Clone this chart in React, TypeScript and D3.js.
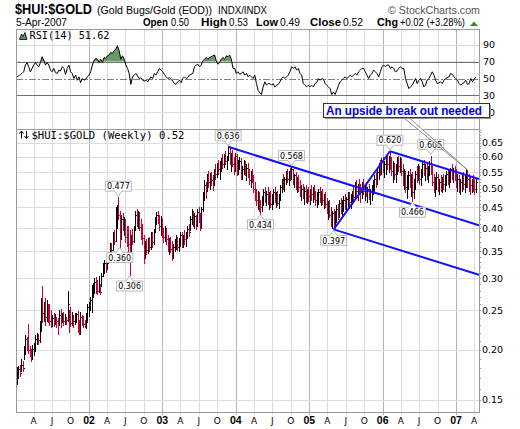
import React from "react";
import * as d3 from "d3";

// Weekly bars, Jan 2001 .. Apr 2007 (high, low, close)
const highs = [
  0.181,0.182,0.183,0.190,0.187,0.204,0.217,0.215,0.231,0.204,
  0.201,0.205,0.208,0.217,0.220,0.219,0.236,0.268,0.287,0.263,
  0.268,0.266,0.258,0.260,0.250,0.243,0.246,0.245,0.241,0.239,
  0.250,0.252,0.247,0.248,0.245,0.241,0.279,0.251,0.255,0.248,
  0.244,0.246,0.247,0.249,0.237,0.248,0.244,0.242,0.237,0.246,
  0.260,0.262,0.270,0.289,0.292,0.300,0.302,0.297,0.305,0.290,
  0.310,0.327,0.333,0.330,0.338,0.345,0.367,0.368,0.390,0.395,
  0.452,0.455,0.477,0.440,0.430,0.435,0.425,0.422,0.405,0.405,
  0.395,0.385,0.398,0.405,0.440,0.445,0.440,0.438,0.420,0.410,
  0.385,0.372,0.375,0.378,0.380,0.390,0.392,0.398,0.425,0.438,
  0.442,0.432,0.428,0.420,0.400,0.405,0.400,0.385,0.378,0.380,
  0.372,0.365,0.375,0.385,0.380,0.378,0.390,0.392,0.385,0.395,
  0.392,0.405,0.410,0.428,0.445,0.440,0.435,0.432,0.445,0.450,
  0.435,0.450,0.490,0.525,0.520,0.545,0.555,0.548,0.552,0.540,
  0.560,0.575,0.580,0.590,0.585,0.598,0.610,0.612,0.620,0.605,
  0.636,0.630,0.615,0.625,0.600,0.615,0.610,0.590,0.600,0.595,
  0.570,0.590,0.585,0.575,0.580,0.560,0.555,0.560,0.540,0.520,
  0.500,0.495,0.490,0.470,0.480,0.500,0.505,0.495,0.505,0.490,
  0.495,0.485,0.500,0.505,0.490,0.495,0.485,0.510,0.530,0.545,
  0.535,0.555,0.560,0.555,0.565,0.568,0.560,0.545,0.550,0.535,
  0.540,0.525,0.510,0.515,0.505,0.510,0.500,0.505,0.500,0.510,
  0.505,0.510,0.495,0.490,0.500,0.505,0.495,0.500,0.485,0.490,
  0.475,0.468,0.470,0.450,0.440,0.445,0.440,0.455,0.460,0.470,
  0.475,0.470,0.480,0.485,0.478,0.490,0.492,0.485,0.495,0.505,
  0.520,0.525,0.515,0.530,0.515,0.520,0.530,0.510,0.520,0.505,
  0.515,0.500,0.512,0.525,0.540,0.550,0.560,0.580,0.590,0.595,
  0.600,0.585,0.600,0.610,0.605,0.620,0.600,0.585,0.580,0.575,
  0.600,0.605,0.600,0.595,0.575,0.560,0.555,0.540,0.555,0.560,
  0.545,0.550,0.530,0.555,0.570,0.575,0.570,0.560,0.585,0.590,
  0.575,0.580,0.570,0.585,0.605,0.570,0.545,0.535,0.550,0.545,
  0.530,0.540,0.535,0.545,0.540,0.555,0.560,0.555,0.565,0.575,
  0.565,0.570,0.560,0.545,0.540,0.530,0.545,0.550,0.540,0.560,
  0.558,0.545,0.535,0.530,0.540,0.530,0.530,
];
const lows = [
  0.164,0.170,0.172,0.177,0.177,0.190,0.195,0.200,0.196,0.193,
  0.187,0.191,0.194,0.198,0.207,0.206,0.209,0.222,0.234,0.236,
  0.230,0.236,0.234,0.230,0.227,0.229,0.229,0.231,0.228,0.219,
  0.230,0.228,0.234,0.230,0.232,0.232,0.235,0.221,0.229,0.230,
  0.227,0.232,0.234,0.221,0.219,0.219,0.230,0.228,0.227,0.226,
  0.234,0.242,0.250,0.248,0.270,0.276,0.276,0.275,0.277,0.274,
  0.287,0.304,0.310,0.312,0.316,0.328,0.340,0.345,0.352,0.365,
  0.372,0.400,0.420,0.360,0.375,0.395,0.385,0.370,0.362,0.350,
  0.306,0.330,0.365,0.370,0.395,0.405,0.400,0.395,0.375,0.365,
  0.327,0.338,0.345,0.346,0.350,0.355,0.360,0.365,0.390,0.410,
  0.412,0.395,0.385,0.380,0.370,0.372,0.365,0.350,0.345,0.348,
  0.333,0.338,0.350,0.355,0.352,0.350,0.362,0.360,0.358,0.365,
  0.362,0.378,0.382,0.395,0.410,0.405,0.400,0.398,0.405,0.415,
  0.396,0.400,0.440,0.470,0.475,0.495,0.505,0.500,0.510,0.498,
  0.510,0.530,0.535,0.545,0.530,0.555,0.565,0.568,0.575,0.560,
  0.590,0.575,0.555,0.570,0.545,0.555,0.540,0.545,0.560,0.530,
  0.530,0.545,0.540,0.525,0.535,0.515,0.505,0.520,0.490,0.470,
  0.455,0.445,0.440,0.434,0.440,0.455,0.465,0.455,0.460,0.445,
  0.450,0.445,0.460,0.465,0.450,0.455,0.448,0.470,0.490,0.500,
  0.495,0.515,0.520,0.510,0.525,0.530,0.515,0.505,0.500,0.490,
  0.495,0.480,0.470,0.475,0.460,0.465,0.462,0.468,0.460,0.470,
  0.465,0.472,0.455,0.450,0.460,0.465,0.455,0.458,0.448,0.450,
  0.435,0.420,0.425,0.405,0.400,0.397,0.402,0.415,0.420,0.425,
  0.435,0.430,0.440,0.445,0.440,0.450,0.452,0.448,0.460,0.470,
  0.475,0.480,0.470,0.490,0.465,0.475,0.485,0.470,0.480,0.465,
  0.472,0.460,0.470,0.485,0.495,0.505,0.515,0.530,0.540,0.545,
  0.550,0.535,0.545,0.560,0.550,0.560,0.540,0.520,0.530,0.520,
  0.545,0.555,0.550,0.540,0.510,0.500,0.490,0.475,0.500,0.505,
  0.480,0.466,0.475,0.500,0.520,0.525,0.515,0.510,0.535,0.540,
  0.525,0.530,0.520,0.540,0.545,0.510,0.490,0.480,0.500,0.495,
  0.485,0.495,0.490,0.500,0.495,0.510,0.515,0.505,0.520,0.530,
  0.520,0.525,0.505,0.495,0.490,0.485,0.495,0.500,0.490,0.505,
  0.505,0.495,0.485,0.490,0.495,0.485,0.490,
];
const closes = [
  0.177,0.179,0.175,0.183,0.180,0.200,0.212,0.205,0.199,0.196,
  0.190,0.201,0.204,0.213,0.216,0.211,0.232,0.258,0.246,0.256,
  0.241,0.259,0.245,0.236,0.232,0.240,0.234,0.241,0.236,0.233,
  0.244,0.235,0.243,0.236,0.239,0.237,0.259,0.236,0.233,0.241,
  0.236,0.243,0.245,0.230,0.225,0.241,0.238,0.232,0.230,0.243,
  0.255,0.258,0.266,0.281,0.286,0.294,0.286,0.280,0.283,0.278,
  0.305,0.321,0.327,0.318,0.335,0.340,0.360,0.352,0.385,0.372,
  0.440,0.448,0.430,0.395,0.420,0.405,0.418,0.380,0.372,0.365,
  0.335,0.378,0.372,0.398,0.430,0.415,0.435,0.402,0.385,0.378,
  0.345,0.362,0.352,0.370,0.358,0.385,0.370,0.392,0.418,0.430,
  0.420,0.405,0.420,0.390,0.380,0.398,0.375,0.360,0.370,0.355,
  0.345,0.360,0.368,0.375,0.360,0.372,0.385,0.368,0.380,0.375,
  0.388,0.398,0.390,0.420,0.438,0.415,0.428,0.410,0.438,0.425,
  0.402,0.445,0.482,0.510,0.500,0.535,0.520,0.538,0.525,0.515,
  0.552,0.545,0.570,0.560,0.578,0.590,0.575,0.605,0.588,0.595,
  0.615,0.585,0.600,0.578,0.560,0.605,0.550,0.575,0.585,0.545,
  0.560,0.580,0.552,0.565,0.545,0.525,0.545,0.530,0.500,0.480,
  0.470,0.485,0.455,0.450,0.470,0.490,0.475,0.485,0.470,0.480,
  0.460,0.475,0.490,0.470,0.480,0.462,0.478,0.505,0.520,0.510,
  0.530,0.545,0.530,0.548,0.540,0.560,0.525,0.540,0.510,0.525,
  0.505,0.490,0.500,0.485,0.495,0.475,0.490,0.480,0.495,0.485,
  0.498,0.480,0.470,0.482,0.490,0.475,0.485,0.470,0.478,0.460,
  0.445,0.455,0.430,0.420,0.435,0.410,0.432,0.445,0.430,0.462,
  0.448,0.465,0.470,0.455,0.472,0.480,0.465,0.478,0.488,0.478,
  0.510,0.495,0.505,0.500,0.490,0.510,0.495,0.500,0.490,0.500,
  0.485,0.495,0.505,0.515,0.530,0.520,0.550,0.570,0.555,0.585,
  0.560,0.575,0.590,0.575,0.600,0.575,0.555,0.570,0.545,0.565,
  0.590,0.570,0.595,0.555,0.525,0.545,0.505,0.520,0.540,0.515,
  0.535,0.490,0.520,0.545,0.540,0.565,0.530,0.555,0.575,0.555,
  0.565,0.545,0.560,0.575,0.555,0.520,0.505,0.525,0.535,0.505,
  0.520,0.510,0.525,0.515,0.530,0.545,0.530,0.548,0.560,0.545,
  0.555,0.540,0.520,0.530,0.505,0.520,0.535,0.515,0.525,0.545,
  0.530,0.520,0.510,0.525,0.505,0.500,0.520,
];

// RSI(14), sampled evenly across the chart
const rsiValues = [
  52,53,55,56,58,66,69,64,58,62,66,69,66,64,69,76,72,66,69,66,
  60,58,62,57,56,60,59,64,62,55,62,66,58,56,50,54,48,52,45,50,
  48,49,52,54,58,66,71,74,73,69,73,69,75,74,77,78,81,80,83,85,
  89,83,73,77,73,66,62,56,43,52,54,56,53,50,51,48,47,48,46,49,
  52,50,56,54,58,62,60,58,55,52,50,51,49,47,44,43,46,48,45,50,
  52,50,51,54,55,56,64,66,67,64,66,71,73,75,73,75,76,77,78,71,
  67,69,73,75,73,77,76,78,73,62,62,56,58,55,56,58,54,56,52,54,
  52,50,54,44,36,33,
  31,40,46,42,44,44,42,44,40,42,43,46,50,52,50,52,54,58,64,62,
  64,60,62,56,54,44,42,40,42,40,42,40,44,45,50,48,50,49,44,42,
  40,38,31,34,31,36,42,46,48,50,52,50,52,54,52,54,56,54,58,60,
  62,62,58,54,50,54,56,60,58,56,52,58,64,66,64,66,66,62,64,62,
  58,59,62,64,62,62,50,44,38,40,42,46,50,44,48,50,46,40,42,48,
  50,54,58,54,48,44,45,46,44,48,50,51,52,56,55,52,50,48,44,42,
  44,45,48,43,44,50,46,49,51.62,
];

const priceTicks = [0.15, 0.2, 0.25, 0.3, 0.35, 0.4, 0.45, 0.5, 0.55, 0.6, 0.65];
const rsiTicks = [90, 70, 50, 30, 10];

const pivots = [
  { index: 72, value: 0.477, side: "above" },
  { index: 73, value: 0.36, side: "below" },
  { index: 80, value: 0.306, side: "below" },
  { index: 150, value: 0.636, side: "above" },
  { index: 173, value: 0.434, side: "below" },
  { index: 195, value: 0.568, side: "above" },
  { index: 225, value: 0.397, side: "below" },
  { index: 265, value: 0.62, side: "above" },
  { index: 281, value: 0.466, side: "below" },
  { index: 294, value: 0.605, side: "above" },
];

const RED = "#cc0033";
const BLUE = "#1010ff";
const SANS = "'Liberation Sans', Arial, sans-serif";
const DV = "'DejaVu Sans', sans-serif";
const MONO = "'DejaVu Sans Mono', monospace";

export default function App() {
  const W = 520, H = 429;
  const L = 16, R = 479;
  const rsiTop = 29, rsiBot = 129, mTop = 129, mBot = 412;

  const dates = closes.map((_, i) => new Date(2001, 0, 8 + 7 * i));
  const x = d3.scaleTime().domain([new Date(2001, 0, 3), new Date(2007, 3, 25)]).range([L, R]);
  const y = d3.scaleLog().domain([0.14007, 0.7038]).range([mBot, mTop]);
  const yr = d3.scaleLinear().domain([0, 100]).range([120.5, 36.5]);

  const [d0, d1] = x.domain();
  const quarters = d3.timeMonth.every(3)!.range(d0, d1);
  const t0 = +dates[0], t1 = +dates[dates.length - 1];
  const rsiX = (k: number) => x(new Date(t0 + (k * (t1 - t0)) / (rsiValues.length - 1)));

  const rsiLine = d3.line<number>().x((_, k) => rsiX(k)).y((v) => yr(v));
  const rsiArea = d3.area<number>().x((_, k) => rsiX(k)).y0(yr(70)).y1((v) => yr(v));

  const minorTicks = d3.range(15, 71).map((v) => v / 100);

  // trend channel
  const pt = (i: number, v: number) => [x(dates[i]), y(v)] as [number, number];
  const a = pt(150, 0.636), b = pt(195, 0.568);
  const slope = (b[1] - a[1]) / (b[0] - a[0]);
  const toRight = (p: [number, number]) => [R, p[1] + slope * (R - p[0])];
  const p620 = pt(265, 0.62), p397 = pt(225, 0.397);
  const channel = [
    [a, toRight(a)],
    [p620, toRight(p620)],
    [p397, toRight(p397)],
    [p397, p620],
  ];

  const target = pt(320, highs[320]);

  const bubble = (px: number, py: number, side: string) => {
    const w = 26, h = 10, gap = 6;
    const bx = px - w / 2;
    if (side === "above") {
      const by1 = py - gap, by0 = by1 - h;
      return {
        d: `M${bx},${by0}H${bx + w}V${by1}H${px + 3.5}L${px},${py - 1}L${px - 3.5},${by1}H${bx}Z`,
        ty: by0 + 8.2,
      };
    }
    const by0 = py + gap, by1 = by0 + h;
    return {
      d: `M${bx},${by0}H${px - 3.5}L${px},${py + 1}L${px + 3.5},${by0}H${bx + w}V${by1}H${bx}Z`,
      ty: by0 + 8.2,
    };
  };

  const monthLetter = (d: Date) => d3.timeFormat("%b")(d).charAt(0);

  return (
    <svg width={W} height={H} style={{ position: "absolute", left: 0, top: 0, background: "#fff" }}>
      <rect x={0} y={0} width={W} height={H} fill="#fff" />
      <defs>
        <clipPath id="mainClip"><rect x={L} y={mTop} width={R - L} height={mBot - mTop} /></clipPath>
        <clipPath id="rsiClip"><rect x={L} y={rsiTop} width={R - L} height={rsiBot - rsiTop} /></clipPath>
        <clipPath id="above70"><rect x={L} y={rsiTop} width={R - L} height={yr(70) - rsiTop} /></clipPath>
      </defs>

      {/* Header */}
      <text x={15} y={14} fontFamily={SANS} fontWeight="bold" fontSize={15} textLength={77} lengthAdjust="spacingAndGlyphs">$HUI:$GOLD</text>
      <text x={97} y={14} fontFamily={SANS} fontSize={11} textLength={115} lengthAdjust="spacingAndGlyphs">(Gold Bugs/Gold (EOD))</text>
      <text x={218} y={14} fontFamily={SANS} fontSize={10} textLength={49} lengthAdjust="spacingAndGlyphs">INDX/INDX</text>
      <text x={388} y={14} fontFamily={SANS} fontSize={11} fill="#555" textLength={92} lengthAdjust="spacingAndGlyphs">© StockCharts.com</text>
      <text x={16} y={26} fontFamily={SANS} fontSize={10} textLength={51} lengthAdjust="spacingAndGlyphs">5-Apr-2007</text>
      <g fontFamily={SANS} fontSize={10}>
        <text x={143} y={26} fontWeight="bold" textLength={25} lengthAdjust="spacingAndGlyphs">Open</text>
        <text x={171} y={26} textLength={18} lengthAdjust="spacingAndGlyphs">0.50</text>
        <text x={201} y={26} fontWeight="bold" textLength={26} lengthAdjust="spacingAndGlyphs">High</text>
        <text x={229} y={26} textLength={19} lengthAdjust="spacingAndGlyphs">0.53</text>
        <text x={256} y={26} fontWeight="bold" textLength={22} lengthAdjust="spacingAndGlyphs">Low</text>
        <text x={280} y={26} textLength={20} lengthAdjust="spacingAndGlyphs">0.49</text>
        <text x={310} y={26} fontWeight="bold" textLength={31} lengthAdjust="spacingAndGlyphs">Close</text>
        <text x={343} y={26} textLength={20} lengthAdjust="spacingAndGlyphs">0.52</text>
        <text x={377} y={26} fontWeight="bold" textLength={21} lengthAdjust="spacingAndGlyphs">Chg</text>
        <text x={400} y={26} textLength={65} lengthAdjust="spacingAndGlyphs">+0.02 (+3.28%)</text>
      </g>
      <path d="M470,26 L474,21.5 L478,26 Z" fill="#2e8b2e" />

      {/* Grid: RSI panel */}
      <g shapeRendering="crispEdges">
        {quarters.map((q, i) => (
          <line key={"rv" + i} x1={Math.round(x(q)) + 0.5} x2={Math.round(x(q)) + 0.5} y1={rsiTop} y2={rsiBot}
            stroke={q.getMonth() === 0 ? "#b4b4b4" : "#dcdcdc"} />
        ))}
        {rsiTicks.map((t) => (
          <line key={"rh" + t} x1={L} x2={R} y1={Math.round(yr(t)) + 0.5} y2={Math.round(yr(t)) + 0.5}
            stroke={t === 70 || t === 30 ? "#707070" : t === 50 ? "#808080" : "#dcdcdc"}
            strokeDasharray={t === 50 ? "7,2,2,2" : undefined} />
        ))}
      </g>
      <g clipPath="url(#rsiClip)">
        <path d={rsiArea(rsiValues) || ""} fill="#6a9a6a" clipPath="url(#above70)" />
        <path d={rsiLine(rsiValues) || ""} fill="none" stroke="#000" strokeWidth={1} />
      </g>
      <rect x={L + 0.5} y={rsiTop + 0.5} width={R - L} height={rsiBot - rsiTop} fill="none" stroke="#999" shapeRendering="crispEdges" />
      {rsiTicks.map((t) => (
        <text key={"rl" + t} x={483} y={yr(t) + 3.5} fontFamily={DV} fontSize={9.5}>{t}</text>
      ))}
      <path d="M19.5,39.5 L21.5,34 L23,36.5 L25,32.5 L27,39.5 Z" fill="#5f8f5f" stroke="#000" strokeWidth={0.8} />
      <text x={29.5} y={39.3} fontFamily={MONO} fontSize={10} textLength={80} lengthAdjust="spacingAndGlyphs">RSI(14) 51.62</text>

      {/* Grid: main panel */}
      <g shapeRendering="crispEdges">
        {quarters.map((q, i) => (
          <line key={"mv" + i} x1={Math.round(x(q)) + 0.5} x2={Math.round(x(q)) + 0.5} y1={mTop} y2={mBot + 3}
            stroke={q.getMonth() === 0 ? "#b4b4b4" : "#dcdcdc"} />
        ))}
        {priceTicks.map((t) => (
          <line key={"mh" + t} x1={L} x2={R} y1={Math.round(y(t)) + 0.5} y2={Math.round(y(t)) + 0.5} stroke="#dcdcdc" />
        ))}
        {minorTicks.map((t) => (
          <line key={"mt" + t} x1={R} x2={R + 2} y1={Math.round(y(t)) + 0.5} y2={Math.round(y(t)) + 0.5} stroke="#999" />
        ))}
      </g>

      <g clipPath="url(#mainClip)">
        {closes.map((c, i) => {
          const xx = Math.round(x(dates[i])) + 0.5;
          const col = i > 0 && c < closes[i - 1] ? RED : "#000";
          const o = i > 0 ? closes[i - 1] : c;
          return (
            <g key={"b" + i} stroke={col} shapeRendering="crispEdges">
              <line x1={xx} x2={xx} y1={Math.round(y(highs[i]))} y2={Math.round(y(lows[i])) + 1} />
              <line x1={xx - 1} x2={xx} y1={Math.round(y(o)) + 0.5} y2={Math.round(y(o)) + 0.5} />
              <line x1={xx} x2={xx + 1.5} y1={Math.round(y(c)) + 0.5} y2={Math.round(y(c)) + 0.5} />
            </g>
          );
        })}
        {channel.map((s, i) => (
          <line key={"c" + i} x1={s[0][0]} y1={s[0][1]} x2={s[1][0]} y2={s[1][1]} stroke={BLUE} strokeWidth={2} />
        ))}
      </g>

      <rect x={L + 0.5} y={mTop + 0.5} width={R - L} height={mBot - mTop} fill="none" stroke="#999" shapeRendering="crispEdges" />

      {priceTicks.map((t) => (
        <text key={"pl" + t} x={482} y={y(t) + 3.5} fontFamily={DV} fontSize={9.5}>{t.toFixed(2)}</text>
      ))}

      {quarters.map((q, i) => {
        const isYear = q.getMonth() === 0;
        return (
          <text key={"xl" + i} x={x(q)} y={423.5} textAnchor="middle"
            fontFamily={isYear ? SANS : DV} fontWeight={isYear ? "bold" : "normal"} fontSize={isYear ? 10.5 : 9}>
            {isYear ? d3.timeFormat("%y")(q) : monthLetter(q)}
          </text>
        );
      })}

      {/* legend */}
      <g stroke="#000" strokeWidth={1} fill="none">
        <path d="M21.5,138.5 V131.5 M19.5,133.5 L21.5,131 L23.5,133.5" />
        <path d="M26.5,131 V138 M24.5,136 L26.5,138.5 L28.5,136" />
      </g>
      <text x={31.5} y={138.5} fontFamily={MONO} fontSize={10} textLength={153} lengthAdjust="spacingAndGlyphs">$HUI:$GOLD (Weekly) 0.52</text>

      {/* pivot value labels */}
      {pivots.map((p, i) => {
        const [px, py] = pt(p.index, p.value);
        const bb = bubble(px, py, p.side);
        return (
          <g key={"pv" + i}>
            <path d={bb.d} fill="#fff" stroke="#b8b8b8" strokeWidth={1} />
            <text x={px} y={bb.ty} textAnchor="middle" fontFamily={DV} fontSize={8}>{p.value.toFixed(3)}</text>
          </g>
        );
      })}

      {/* annotation */}
      <path d={`M404,118 L409.5,118 L${target[0]},${target[1]} Z`} fill="#fff" stroke="#8c8c8c" strokeWidth={1} />
      <rect x={325} y={105} width={166} height={14} fill="#999" />
      <rect x={323.5} y={103.5} width={166} height={14} fill="#fff" stroke="#333" strokeWidth={1} />
      <text x={326} y={115} fontFamily={SANS} fontWeight="bold" fontSize={12} fill="#0000ee" textLength={156} lengthAdjust="spacingAndGlyphs">An upside break out needed</text>
    </svg>
  );
}
